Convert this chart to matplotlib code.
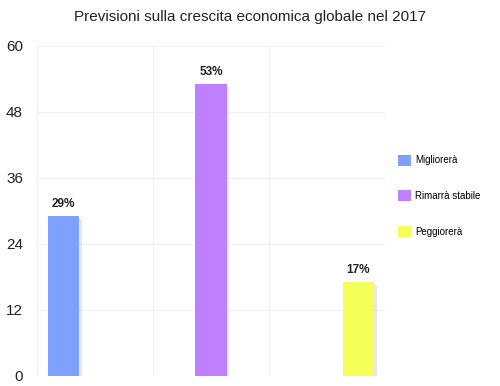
import matplotlib
matplotlib.use("Agg")
import matplotlib.pyplot as plt
import matplotlib.patheffects as pe
from matplotlib.patches import Patch

plt.rcParams['font.family'] = ['Liberation Sans', 'DejaVu Sans']

title = "Previsioni sulla crescita economica globale nel 2017"
series = ["Migliorerà", "Rimarrà stabile", "Peggiorerà"]
values = [29, 53, 17]
labels = ["29%", "53%", "17%"]
colors = ["#80A0FF", "#BF80FF", "#F5FF5A"]
yticks = [0, 12, 24, 36, 48, 60]

fig = plt.figure(figsize=(5.0, 3.86), dpi=100)
ax = fig.add_axes([0.074, 0.026, 0.696, 0.855])

ncat = len(series)
width = 0.27
offsets = [-width, 0.0, width]
for i, (v, c, lab) in enumerate(zip(values, colors, labels)):
    x = i + offsets[i]
    ax.bar(x, v, width=width, color=c, zorder=3,
           path_effects=[pe.SimplePatchShadow(offset=(2, -2), shadow_rgbFace='#999999', alpha=0.22),
                         pe.Normal()])
    ax.text(x, v + 1.2, lab, ha='center', va='bottom', fontsize=8.5, fontweight='bold', color='#222222')

ax.set_xlim(-0.5, ncat - 0.5)
ax.set_ylim(0, 60)
ax.set_yticks(yticks)
ax.set_yticklabels([str(t) for t in yticks], fontsize=11, color='#222222')
ax.set_xticks([])
for x in [-0.5, 0.5, 1.5, 2.5]:
    ax.axvline(x, color='#f0f0f0', lw=0.8, zorder=1)
for y in yticks:
    ax.axhline(y, color='#f0f0f0', lw=0.8, zorder=1)
for s in ax.spines.values():
    s.set_visible(False)
ax.tick_params(axis='y', length=0, pad=10)

fig.text(0.5, 0.955, title, ha='center', va='center', fontsize=11, color='#222222')

handles = [Patch(facecolor=c, edgecolor='none') for c in colors]
fig.legend(handles, series, loc='upper left', bbox_to_anchor=(0.779, 0.622),
           frameon=False, fontsize=7, labelspacing=2.55, handlelength=1.35,
           handleheight=1.35, handletextpad=0.35)

fig.savefig("out.png", dpi=100)
